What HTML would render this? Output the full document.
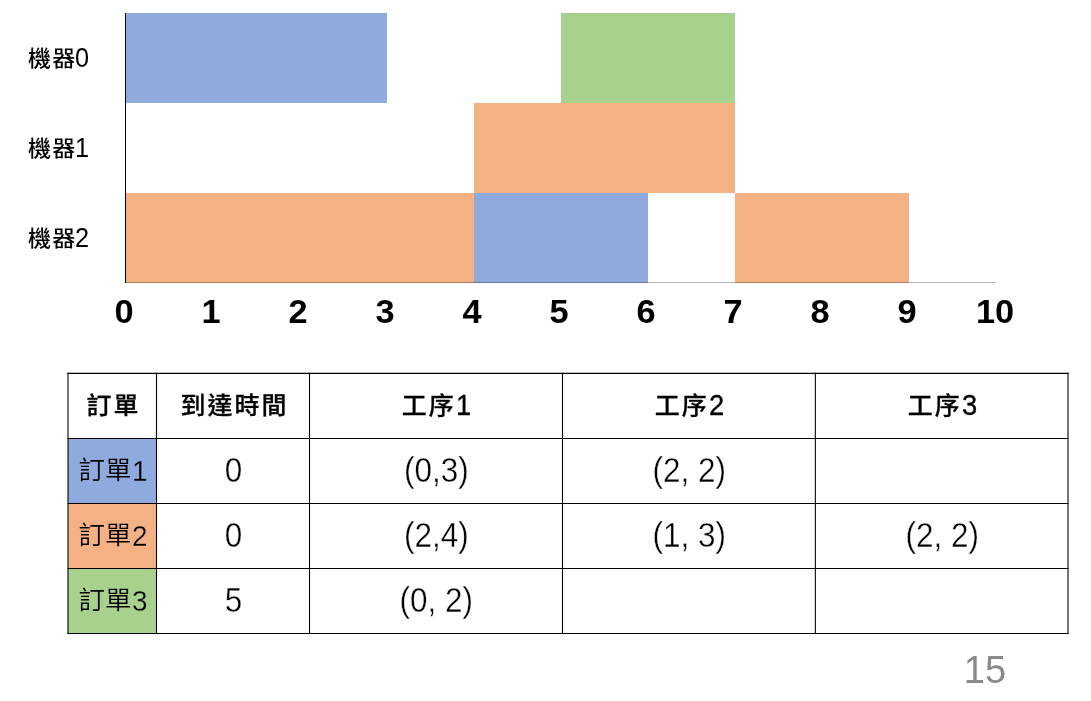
<!DOCTYPE html>
<html lang="zh-Hant">
<head>
<meta charset="utf-8">
<title>排程甘特圖</title>
<style>
html,body{margin:0;padding:0;background:#fff;}
body{width:1091px;height:701px;position:relative;overflow:hidden;font-family:"Liberation Sans","Noto Sans CJK TC",sans-serif;color:#000;}
.abs{position:absolute;}
.bar{position:absolute;height:90px;}
.blue{background:#8faadc;}
.orange{background:#f4b183;}
.green{background:#a9d18e;}
.mlabel{position:absolute;left:28px;width:90px;font-size:23px;line-height:30px;font-weight:500;white-space:nowrap;}
.mlabel i{font-style:normal;display:inline-block;letter-spacing:1.2px;transform:scaleY(0.92);transform-origin:50% 55%;}
.mlabel b{font-weight:normal;font-size:27.5px;display:inline-block;transform:scaleX(0.92);transform-origin:0 50%;margin-left:-1px;position:relative;top:0.5px;}
.tick{position:absolute;top:291.6px;width:60px;margin-left:-30.4px;transform:scaleX(1.04);text-align:center;font-size:33px;line-height:40px;font-weight:bold;font-family:"Liberation Sans",sans-serif;}
.cell{position:absolute;display:flex;align-items:center;justify-content:center;white-space:nowrap;}
.hd{font-size:25px;font-weight:500;box-sizing:border-box;padding-bottom:2.8px;}
.hd i{font-style:normal;display:inline-block;letter-spacing:2px;margin-right:-2px;-webkit-text-stroke:0.3px #000;transform:scaleY(0.94);transform-origin:50% 55%;}
.hd b{font-weight:normal;font-size:29.4px;-webkit-text-stroke:0.35px #000;position:relative;top:1.4px;margin-left:1.9px;display:inline-block;transform:scaleX(0.93);transform-origin:0 50%;}
.od{font-size:26.5px;font-weight:350;}
.od i{font-style:normal;display:inline-block;transform:scaleY(0.96);transform-origin:50% 50%;}
.od{padding-bottom:5.6px;padding-left:1.5px;box-sizing:border-box;}
.od b{font-weight:normal;font-size:30px;-webkit-text-stroke:0.28px var(--bg);position:relative;top:3.4px;left:0.6px;display:inline-block;transform:scaleX(0.93);transform-origin:0 50%;}
.num{font-size:34.5px;font-weight:normal;-webkit-text-stroke:0.38px #fff;}
.num span{display:inline-block;transform:scaleX(0.912);}
</style>
</head>
<body>
<!-- chart bars -->
<div class="bar blue" style="left:126px;top:13px;width:261px;"></div>
<div class="bar green" style="left:561px;top:13px;width:174px;"></div>
<div class="bar orange" style="left:474px;top:103px;width:261px;"></div>
<div class="bar orange" style="left:126px;top:193px;width:348px;"></div>
<div class="bar blue" style="left:474px;top:193px;width:174px;"></div>
<div class="bar orange" style="left:735px;top:193px;width:174px;"></div>
<!-- axes -->
<div class="abs" style="left:125px;top:13px;width:1px;height:270px;background:#000;"></div>
<div class="abs" style="left:126px;top:282px;width:870px;height:1px;background:#b9b9b9;mix-blend-mode:multiply;"></div>
<!-- machine labels -->
<div class="mlabel" style="top:42.5px;"><i>機器</i><b>0</b></div>
<div class="mlabel" style="top:132.5px;"><i>機器</i><b>1</b></div>
<div class="mlabel" style="top:222.5px;"><i>機器</i><b>2</b></div>
<!-- tick labels -->
<div class="tick" style="left:124px;">0</div>
<div class="tick" style="left:211px;">1</div>
<div class="tick" style="left:298px;">2</div>
<div class="tick" style="left:385px;">3</div>
<div class="tick" style="left:472px;">4</div>
<div class="tick" style="left:559px;">5</div>
<div class="tick" style="left:646px;">6</div>
<div class="tick" style="left:733px;">7</div>
<div class="tick" style="left:820px;">8</div>
<div class="tick" style="left:907px;">9</div>
<div class="tick" style="left:995px;">10</div>
<!-- table fills -->
<div class="abs blue" style="left:68px;top:438px;width:89px;height:65px;"></div>
<div class="abs orange" style="left:68px;top:503px;width:89px;height:65px;"></div>
<div class="abs green" style="left:68px;top:568px;width:89px;height:65px;"></div>
<!-- table lines -->
<svg class="abs" style="left:0;top:0;" width="1091" height="701" viewBox="0 0 1091 701" fill="none" stroke="#000" stroke-width="1.08">
<line x1="67.46" y1="373.4" x2="1068.54" y2="373.4"/>
<line x1="67.46" y1="438.5" x2="1068.54" y2="438.5"/>
<line x1="67.46" y1="503.45" x2="1068.54" y2="503.45"/>
<line x1="67.46" y1="568.5" x2="1068.54" y2="568.5"/>
<line x1="67.46" y1="633.5" x2="1068.54" y2="633.5"/>
<line x1="68.0" y1="372.86" x2="68.0" y2="634.04"/>
<line x1="156.5" y1="372.86" x2="156.5" y2="634.04"/>
<line x1="309.5" y1="372.86" x2="309.5" y2="634.04"/>
<line x1="562.5" y1="372.86" x2="562.5" y2="634.04"/>
<line x1="815.35" y1="372.86" x2="815.35" y2="634.04"/>
<line x1="1068.0" y1="372.86" x2="1068.0" y2="634.04"/>
</svg>
<!-- table text -->
<div class="cell hd" style="left:68px;top:373px;width:89px;height:65px;"><i>訂單</i></div>
<div class="cell hd" style="left:157px;top:373px;width:153px;height:65px;"><i>到達時間</i></div>
<div class="cell hd" style="left:310px;top:373px;width:254px;height:65px;"><i>工序</i><b>1</b></div>
<div class="cell hd" style="left:563px;top:373px;width:254px;height:65px;"><i>工序</i><b>2</b></div>
<div class="cell hd" style="left:816px;top:373px;width:254px;height:65px;"><i>工序</i><b>3</b></div>

<div class="cell od" style="--bg:#8faadc;left:68px;top:438px;width:89px;height:65px;"><i>訂單</i><b>1</b></div>
<div class="cell od" style="--bg:#f4b183;left:68px;top:503px;width:89px;height:65px;"><i>訂單</i><b>2</b></div>
<div class="cell od" style="--bg:#a9d18e;left:68px;top:568px;width:89px;height:65px;"><i>訂單</i><b>3</b></div>

<div class="cell num" style="left:157px;top:438px;width:153px;height:65px;"><span>0</span></div>
<div class="cell num" style="left:157px;top:503px;width:153px;height:65px;"><span>0</span></div>
<div class="cell num" style="left:157px;top:568px;width:153px;height:65px;"><span>5</span></div>

<div class="cell num" style="left:310px;top:438px;width:253px;height:65px;"><span>(0,3)</span></div>
<div class="cell num" style="left:310px;top:503px;width:253px;height:65px;"><span>(2,4)</span></div>
<div class="cell num" style="left:310px;top:568px;width:253px;height:65px;"><span>(0, 2)</span></div>

<div class="cell num" style="left:563px;top:438px;width:253px;height:65px;"><span>(2, 2)</span></div>
<div class="cell num" style="left:563px;top:503px;width:253px;height:65px;"><span>(1, 3)</span></div>

<div class="cell num" style="left:816px;top:503px;width:253px;height:65px;"><span>(2, 2)</span></div>
<!-- page number -->
<div class="abs" style="left:959.5px;top:650px;width:50px;font-size:39px;transform:scaleX(0.975);line-height:40px;color:#898989;text-align:center;font-family:'Liberation Sans',sans-serif;">15</div>
</body>
</html>
